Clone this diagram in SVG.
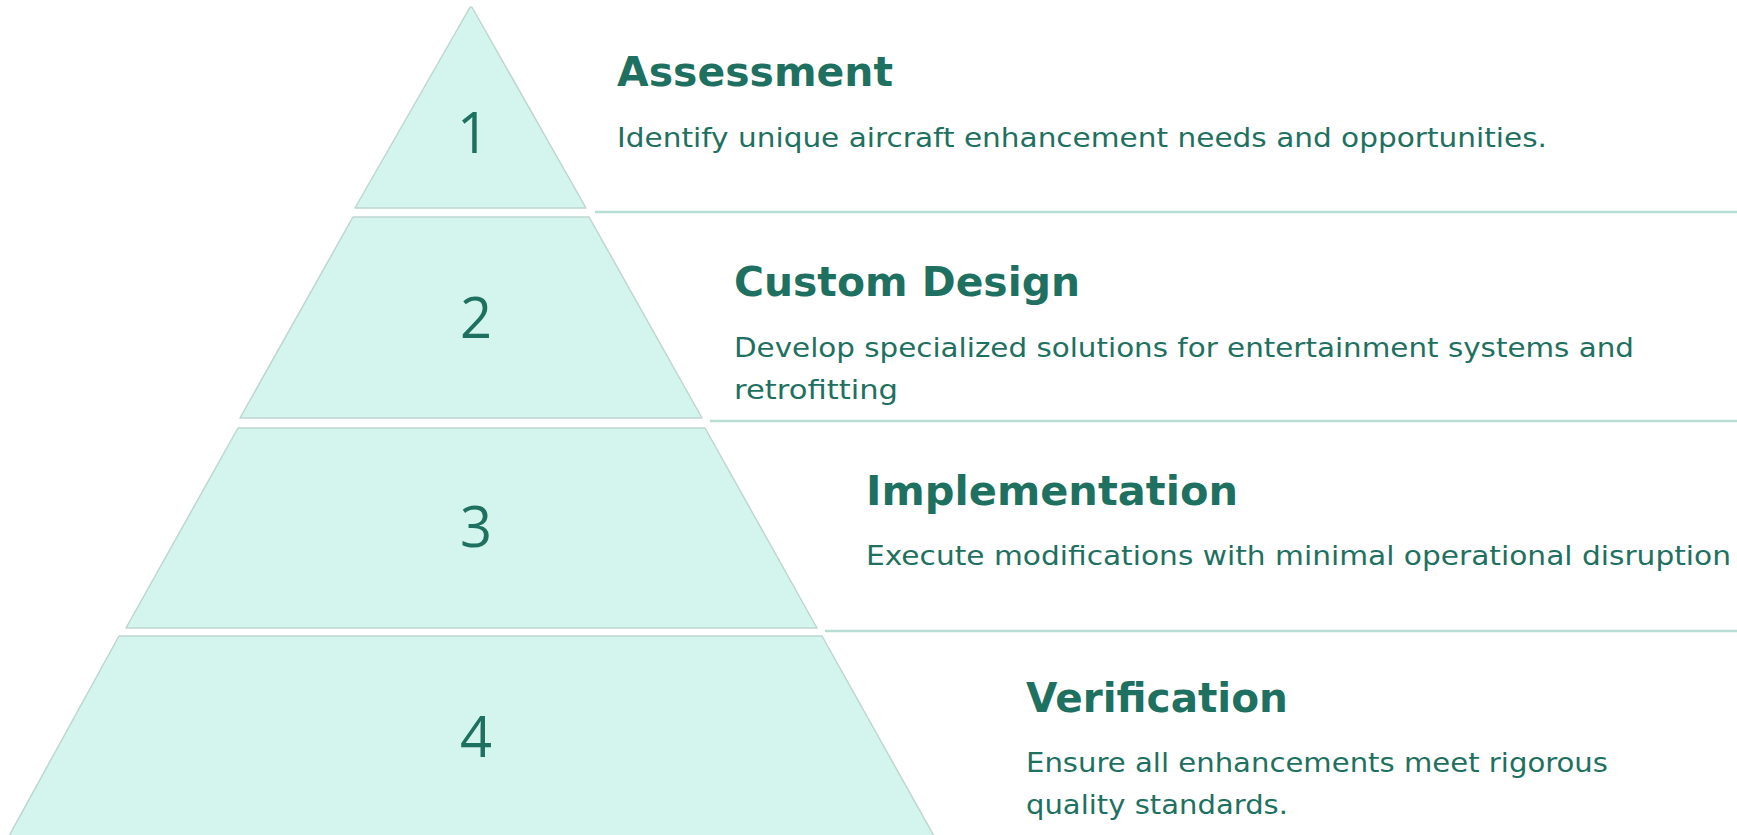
<svg xmlns="http://www.w3.org/2000/svg" width="1737" height="835" viewBox="0 0 1737 835">
<style>
.tier{fill:#d4f5ee;stroke:#bfd6d0;stroke-width:1.5;stroke-linejoin:round}
.num{font-family:"Open Sans","DejaVu Sans",sans-serif;font-size:56px;font-weight:500;fill:#1e7060;text-anchor:middle}
.head{font-family:"DejaVu Sans","Liberation Sans",sans-serif;font-weight:bold;font-size:41px;fill:#1e7060}
.desc{font-family:"DejaVu Sans","Liberation Sans",sans-serif;font-size:27px;fill:#1e7060}
.sep{stroke:#b8ddd4;stroke-width:2.5;fill:none}
</style>
<rect width="1737" height="835" fill="#ffffff"/>
<g id="connectors">
<line class="sep" x1="595" y1="212" x2="1737" y2="212"/>
<line class="sep" x1="710" y1="421" x2="1737" y2="421"/>
<line class="sep" x1="825" y1="631" x2="1737" y2="631"/>
</g>
<g id="tier1">
<path class="tier" d="M469,9 Q471,5 473,9 L586,208 L355,208 Z"/>
<text class="num" x="473" y="153">1</text>
</g>
<g id="tier2">
<path class="tier" d="M353,217 L589,217 L702,418 L240,418 Z"/>
<text class="num" x="476" y="338">2</text>
</g>
<g id="tier3">
<path class="tier" d="M238,428 L705,428 L817,628 L126,628 Z"/>
<text class="num" x="476" y="547">3</text>
</g>
<g id="tier4">
<path class="tier" d="M119,636 L822,636 L934,836 L9,836 Z"/>
<text class="num" x="476" y="757">4</text>
</g>
<g id="label1">
<text class="head" x="617" y="86" textLength="276" lengthAdjust="spacingAndGlyphs">Assessment</text>
<text class="desc" x="617" y="147" textLength="930" lengthAdjust="spacingAndGlyphs">Identify unique aircraft enhancement needs and opportunities.</text>
</g>
<g id="label2">
<text class="head" x="734" y="296" textLength="346" lengthAdjust="spacingAndGlyphs">Custom Design</text>
<text class="desc" x="734" y="357" textLength="900" lengthAdjust="spacingAndGlyphs">Develop specialized solutions for entertainment systems and</text>
<text class="desc" x="734" y="399" textLength="164" lengthAdjust="spacingAndGlyphs">retrofitting</text>
</g>
<g id="label3">
<text class="head" x="866" y="505" textLength="372" lengthAdjust="spacingAndGlyphs">Implementation</text>
<text class="desc" x="866" y="565" textLength="865" lengthAdjust="spacingAndGlyphs">Execute modifications with minimal operational disruption</text>
</g>
<g id="label4">
<text class="head" x="1026" y="712" textLength="262" lengthAdjust="spacingAndGlyphs">Verification</text>
<text class="desc" x="1026" y="772" textLength="582" lengthAdjust="spacingAndGlyphs">Ensure all enhancements meet rigorous</text>
<text class="desc" x="1026" y="814" textLength="262" lengthAdjust="spacingAndGlyphs">quality standards.</text>
</g>
</svg>
